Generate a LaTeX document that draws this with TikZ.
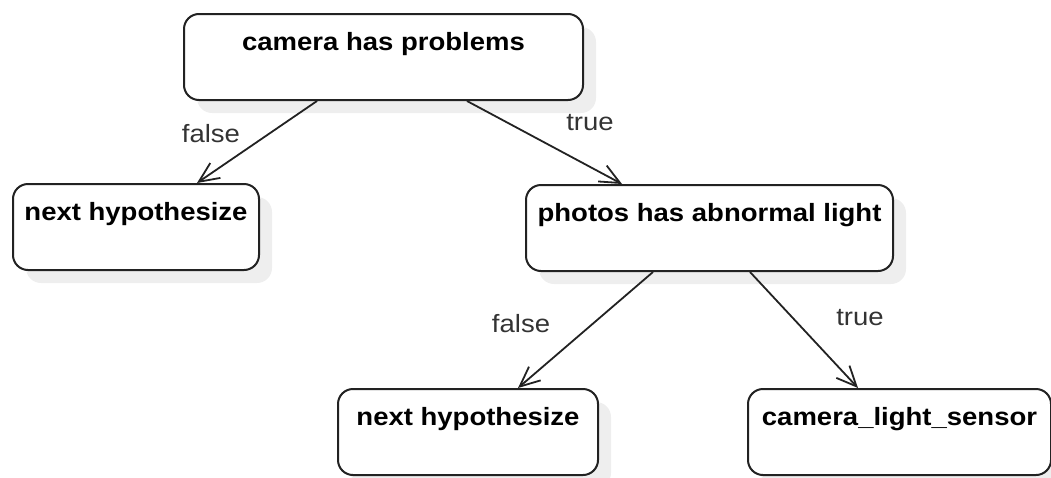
\documentclass[tikz,border=0pt]{standalone}
\usepackage{fontspec}
\setmainfont{Liberation Sans}[FakeStretch=1.1]
\usetikzlibrary{arrows.meta,shadows}
\definecolor{edge}{HTML}{222222}
\definecolor{shade}{HTML}{EEEEEE}
\definecolor{labelgrey}{HTML}{333333}
\begin{document}
\begin{tikzpicture}[x=1pt,y=-1pt,
  box/.style={draw=edge, line width=2pt, rounded corners=15pt, fill=white,
    anchor=north west, inner xsep=0pt, inner ysep=0pt,
    text height=36pt, text depth=50pt,
    font=\fontsize{25}{30}\selectfont\bfseries,
    drop shadow={shadow xshift=13pt, shadow yshift=-13pt, fill=shade, opacity=1}},
  link/.style={draw=edge, line width=1.8pt, -{Straight Barb[length=20pt,width=18pt]}},
  lbl/.style={anchor=base, text=labelgrey, inner sep=0pt, font=\fontsize{25}{30}\selectfont}]
  \useasboundingbox (0,0) rectangle (1051,477);

  % decision boxes
  \node[box, minimum width=399pt] (root) at (183,13) {camera has problems};
  \node[box, minimum width=246pt] (nextA) at (12,183) {next hypothesize};
  \node[box, minimum width=367pt] (photo) at (525,184) {photos has abnormal light};
  \node[box, minimum width=260pt] (nextB) at (337,388) {next hypothesize};
  \node[box, minimum width=303pt] (sensor) at (747,388) {camera\_light\_sensor};

  % branches
  \draw[link] ([xshift=134pt]root.south west) -- ([xshift=185pt]nextA.north west);
  \draw[link] ([xshift=284pt]root.south west) -- ([xshift=97pt]photo.north west);
  \draw[link] ([xshift=128pt]photo.south west) -- ([xshift=181pt]nextB.north west);
  \draw[link] ([xshift=225pt]photo.south west) -- ([xshift=111pt]sensor.north west);

  % branch labels
  \node[lbl] (f1) at (211,142) {false};
  \node[lbl] (t1) at (590,130) {true};
  \node[lbl] (f2) at (521,332) {false};
  \node[lbl] (t2) at (860,325) {true};
\end{tikzpicture}
\end{document}
